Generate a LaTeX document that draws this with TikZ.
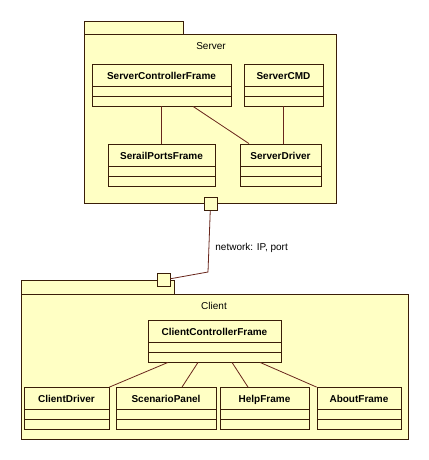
\documentclass[tikz,border=0pt]{standalone}
\usepackage{fontspec}
\setmainfont{Liberation Sans}
\usepackage{tikz}
\definecolor{umlFill}{RGB}{255,255,196}
\definecolor{umlLine}{RGB}{58,30,8}
\definecolor{umlWire}{RGB}{105,38,28}

\begin{document}
\begin{tikzpicture}[x=1pt, y=-1pt, inner sep=0pt, line width=0.8pt]
            \useasboundingbox[fill=white] (0,0) rectangle (428,460);

            \tikzstyle{pkg}=[draw=umlLine, fill=umlFill];
            \tikzstyle{port}=[draw=umlLine, fill=umlFill, minimum size=13pt];
            \tikzstyle{txt}=[font=\fontsize{10}{12}\selectfont];
            \tikzstyle{cls}=[draw=umlLine, fill=umlFill, font=\bfseries\fontsize{10}{12}\selectfont,
              text height=15pt, text depth=27pt,
              path picture={\draw[umlLine]
                ([yshift=-22pt]path picture bounding box.north west) -- ([yshift=-22pt]path picture bounding box.north east)
                ([yshift=-32pt]path picture bounding box.north west) -- ([yshift=-32pt]path picture bounding box.north east);}];

            \draw[pkg] (84,21) rectangle (183,34);
            \node[pkg, anchor=north west, minimum width=252pt, minimum height=169pt] (server) at (84,34) {};
            \node[txt] (serverName) at (211,46) {Server};
            \node[cls, minimum width=139pt] (scf) at (161.5,85) {ServerControllerFrame};
            \node[cls, minimum width=79pt] (cmd) at (283.5,85) {ServerCMD};
            \node[cls, minimum width=107pt] (spf) at (161.5,165) {SerailPortsFrame};
            \node[cls, minimum width=81pt] (sd) at (280.5,165) {ServerDriver};
            \draw[umlWire] (scf.south) -- (spf.north);
            \draw[umlWire] ([xshift=31.5pt]scf.south) -- ([xshift=-31.5pt]sd.north);
            \draw[umlWire] ([xshift=-0.5pt]cmd.south) -- ([xshift=2.5pt]sd.north);

            \draw[pkg] (21,280) rectangle (174,294);
            \node[pkg, anchor=north west, minimum width=387pt, minimum height=145pt] (client) at (21,294) {};
            \node[txt] (clientName) at (214,306) {Client};
            \node[cls, minimum width=133pt] (ccf) at (214.5,341) {ClientControllerFrame};
            \node[cls, minimum width=85pt] (cd) at (66.5,408.5) {ClientDriver};
            \node[cls, minimum width=100pt] (sp) at (166,408.5) {ScenarioPanel};
            \node[cls, minimum width=89pt] (hf) at (264.5,408.5) {HelpFrame};
            \node[cls, minimum width=84pt] (af) at (359,408.5) {AboutFrame};
            \draw[umlWire] ([xshift=-46.5pt]ccf.south) -- (cd.north east);
            \draw[umlWire] ([xshift=-16.5pt]ccf.south) -- ([xshift=16pt]sp.north);
            \draw[umlWire] ([xshift=17.5pt]ccf.south) -- ([xshift=-16.5pt]hf.north);
            \draw[umlWire] ([xshift=45.5pt]ccf.south) -- (af.north west);

            \node[port] (sport) at (210.5,204) {};
            \node[port] (cport) at (163.5,280) {};
            \coordinate (bend) at (208,272);
            \draw[umlWire] (sport) -- (bend) -- (cport);
            \node[txt, anchor=west] (net) at (215,248) {network: IP, port};
\end{tikzpicture}
\end{document}
